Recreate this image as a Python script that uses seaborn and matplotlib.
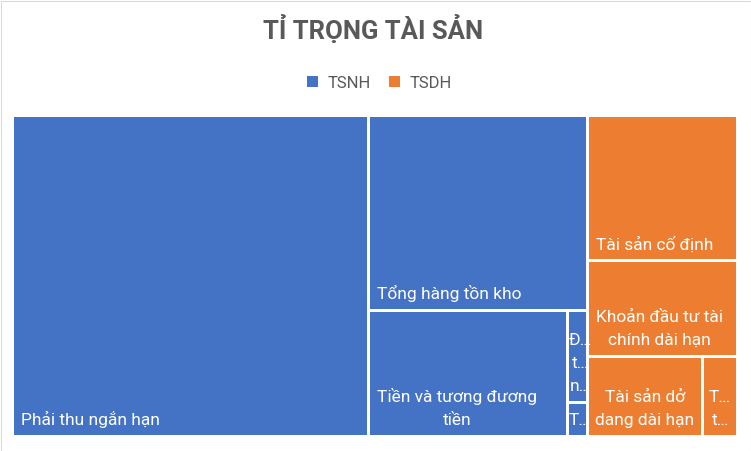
'''
Treemap: Ti trong tai san (TSNH / TSDH)
Seaborn theme + matplotlib patches, squarified layout computed from the data
'''

import matplotlib
matplotlib.use("Agg")
import seaborn as sns
import matplotlib.pyplot as plt
from matplotlib.patches import Rectangle

# Data (percent of total assets)
group_names = ["TSNH", "TSDH"]
tsnh_labels = ["Phải thu ngắn hạn", "Tổng hàng tồn kho", "Tiền và tương đương tiền",
               "Đầu tư ngắn hạn", "Tài sản ngắn hạn khác"]
tsnh_values = [49.10, 18.37, 10.74, 0.79, 0.29]
tsdh_labels = ["Tài sản cố định", "Khoản đầu tư tài chính dài hạn",
               "Tài sản dở dang dài hạn", "Trả trước dài hạn"]
tsdh_values = [9.38, 6.19, 3.96, 1.19]

chart_title = "TỈ TRỌNG TÀI SẢN"

sns.set_theme(style="white")
palette = sns.color_palette(["#4472C4", "#ED7D31"])
plt.rcParams['font.family'] = ['Roboto', 'DejaVu Sans']

W, H = 751, 451
TEXT_GREY = "#595959"
LABEL_FS = 12.5
LEGEND_FS = 12
LINE_H = 23
PAD = 7
WRAP_PAD = 5
GAP = 1.5


# Squarified treemap layout
def worst(row, side):
    s = sum(row)
    return max(max(side * side * r / (s * s), s * s / (side * side * r)) for r in row)


def squarify(values, x, y, dx, dy):
    total = sum(values)
    vals = [v / total * dx * dy for v in values]
    rects = []
    while vals:
        side = min(dx, dy)
        row = [vals[0]]
        i = 1
        while i < len(vals) and worst(row + [vals[i]], side) <= worst(row, side):
            row.append(vals[i])
            i += 1
        vals = vals[i:]
        s = sum(row)
        if dx >= dy:
            cw = s / dy
            yy = y
            for r in row:
                rects.append((x, yy, cw, r / cw))
                yy += r / cw
            x += cw
            dx -= cw
        else:
            rh = s / dx
            xx = x
            for r in row:
                rects.append((xx, y, r / rh, rh))
                xx += r / rh
            y += rh
            dy -= rh
    return rects


fig = plt.figure(figsize=(W / 100, H / 100), dpi=100)
ax = fig.add_axes([0, 0, 1, 1])
ax.set_xlim(0, W)
ax.set_ylim(H, 0)
ax.axis("off")
renderer = fig.canvas.get_renderer()


def text_w(s, fs=LABEL_FS):
    t = ax.text(0, 0, s, fontsize=fs)
    w = t.get_window_extent(renderer).width
    t.remove()
    return w


def fit_word(word, avail):
    if text_w(word) <= avail:
        return word
    cut = word
    while len(cut) > 1 and text_w(cut + "…") > avail:
        cut = cut[:-1]
    return cut + "…"


def wrap_label(label, avail_w, box_h):
    words = label.split()
    lines = []
    cur = ""
    for wd in words:
        trial = (cur + " " + wd).strip()
        if text_w(trial) <= avail_w:
            cur = trial
        else:
            if cur:
                lines.append(cur)
            cur = wd
    lines.append(cur)
    lines = [fit_word(l, avail_w) if text_w(l) > avail_w else l for l in lines]
    max_lines = max(1, int((box_h - 16) // LINE_H))
    return lines[:max_lines]


# Plot area and group layout
region = (12.5, 115.5, 725, 321)
group_vals = [sum(tsnh_values), sum(tsdh_values)]
group_rects = squarify(group_vals, *region)

for g, (gx, gy, gw, gh) in enumerate(group_rects):
    labels = [tsnh_labels, tsdh_labels][g]
    vals = [tsnh_values, tsdh_values][g]
    for lab, (x, y, w, h) in zip(labels, squarify(vals, gx, gy, gw, gh)):
        x0, y0, w0, h0 = x + GAP, y + GAP, w - 2 * GAP, h - 2 * GAP
        rect = Rectangle((x0, y0), w0, h0, facecolor=palette[g], edgecolor="none")
        ax.add_patch(rect)

        lines = wrap_label(lab, w0 - 2 * WRAP_PAD, h0)
        widths = [text_w(l) for l in lines]
        bw = max(widths)
        left = x0 + max(0, min(PAD, (w0 - bw) / 2))
        base = y0 + h0 - 10
        for k, l in enumerate(lines):
            yb = base - (len(lines) - 1 - k) * LINE_H
            ax.text(left + bw / 2, yb, l, ha="center", va="baseline",
                    fontsize=LABEL_FS, color="white", clip_path=rect)

# Title
ax.text(W / 2 - 2, 39, chart_title, ha="center", va="baseline", fontsize=18.5,
        fontweight="bold", color=TEXT_GREY)

# Legend
sq = 11
tw = [text_w(n, LEGEND_FS) for n in group_names]
total_w = 2 * (sq + 10) + sum(tw) + 18
lx = W / 2 + 4 - total_w / 2
for g, name in enumerate(group_names):
    ax.add_patch(Rectangle((lx, 76), sq, sq, facecolor=palette[g], edgecolor="none"))
    ax.text(lx + sq + 10, 88, name, ha="left", va="baseline",
            fontsize=LEGEND_FS, color=TEXT_GREY)
    lx += sq + 10 + tw[g] + 18

# Chart border
ax.add_patch(Rectangle((0.5, 0.5), W - 1, H - 1, fill=False, edgecolor="#D9D9D9",
                       linewidth=0.75, clip_on=False))

fig.savefig("out.png", dpi=100)
